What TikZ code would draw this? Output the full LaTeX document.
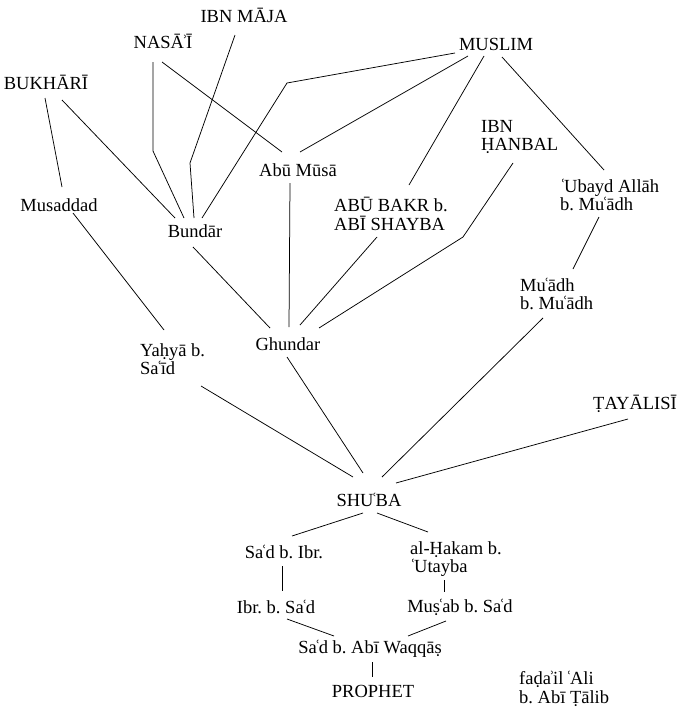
\documentclass[tikz,border=0pt]{standalone}
\usepackage{fontspec}
\setmainfont{Liberation Serif}
\usetikzlibrary{calc}
% ayn and hamza set tight against their neighbours
\newcommand\ay{\kern-0.12em ʿ\kern-0.1em}
\newcommand\hz{\kern-0.12em ʾ\kern-0.1em}
\begin{document}
\begin{tikzpicture}[x=1pt,y=-1pt,
  person/.style={inner sep=0pt,font=\fontsize{18.5}{18.5}\selectfont\frenchspacing},
  lperson/.style={person,anchor=west,align=left},
  link/.style={line width=0.75pt}]
\useasboundingbox (0,0) rectangle (678,707);
% transmitters
\node[person] (ibnmaja) at (244,15) {IBN MĀJA};
\node[person] (nasai) at (163,41) {NASĀ\hz Ī};
\node[person] (bukhari) at (46,82) {BUKHĀRĪ};
\node[person] (muslim) at (496,44) {MUSLIM};
\node[person] (abumusa) at (298,170) {Abū Mūsā};
\node[person] (musaddad) at (59,205) {Musaddad};
\node[person] (bundar) at (195,231) {Bundār};
\node[lperson] (ibnhanbal) at (481,137) {IBN\\ḤANBAL};
\node[lperson] (abubakr) at (334,214) {ABŪ BAKR b.\\ABĪ SHAYBA};
\node[lperson] (ubayd) at (560,195) {\kern0.1em\ay Ubayd Allāh\\b. Mu\ay ādh};
\node[lperson] (muadh) at (520,294) {Mu\ay ādh\\b. Mu\ay ādh};
\node[lperson] (yahya) at (140,359) {Yaḥyā b.\\Sa\ay īd};
\node[person] (ghundar) at (288,344) {Ghundar};
\node[person] (tayalisi) at (635,404) {ṬAYĀLISĪ};
\node[person] (shuba) at (369,500) {SHU\ay BA};
\node[person] (sadibr) at (284,552) {Sa\ay d b. Ibr.};
\node[lperson] (hakam) at (410,559) {al-Ḥakam b.\\\kern0.1em\ay Utayba};
\node[person] (ibrsad) at (276,607) {Ibr. b. Sa\ay d};
\node[person] (musab) at (460,607) {Muṣ\ay ab b. Sa\ay d};
\node[person] (waqqas) at (370,649) {Sa\ay d b. Abī Waqqāṣ};
\node[person] (prophet) at (373,691) {PROPHET};
\node[lperson] (fadail) at (519,689) {faḍa\hz il \ay Ali\\b. Abī Ṭālib};
% chains of transmission
\draw[link] ($(bukhari)+(-1,16)$) -- ($(musaddad)+(3,-18)$);
\draw[link] ($(bukhari)+(16,18)$) -- ($(bundar)+(-20,-13)$);
\draw[link] ($(nasai)+(-10,21)$) -- ($(nasai)+(-10,110)$) -- ($(bundar)+(-11,-13)$);
\draw[link] ($(nasai)+(-1,21)$) -- ($(abumusa)+(-16,-18)$);
\draw[link] ($(ibnmaja)+(-9,20)$) -- ($(bundar)+(-5,-68)$) -- ($(bundar)+(-1,-13)$);
\draw[link] ($(muslim)+(-41,9)$) -- ($(abumusa)+(-11,-87)$) -- ($(bundar)+(7,-13)$);
\draw[link] ($(muslim)+(-28,12)$) -- ($(abumusa)+(2,-18)$);
\draw[link] ($(muslim)+(-12,12)$) -- ($(abubakr.west)+(75,-29)$);
\draw[link] ($(muslim)+(6,13)$) -- ($(ubayd.west)+(44,-25)$);
\draw[link] ($(abumusa)+(-8,13)$) -- ($(ghundar)+(1,-17)$);
\draw[link] ($(musaddad)+(14,8)$) -- ($(yahya.west)+(24,-29)$);
\draw[link] ($(bundar)+(-2,16)$) -- ($(ghundar)+(-18,-16)$);
\draw[link] ($(abubakr.west)+(43,23)$) -- ($(ghundar)+(12,-19)$);
\draw[link] ($(ibnhanbal.west)+(32,26)$) -- ($(ibnhanbal.west)+(-18,100)$) -- ($(ghundar)+(31,-16)$);
\draw[link] ($(ubayd.west)+(39,22)$) -- ($(muadh.west)+(53,-25)$);
\draw[link] ($(muadh.west)+(23,24)$) -- ($(shuba)+(13,-23)$);
\draw[link] ($(yahya.west)+(61,27)$) -- ($(shuba)+(-16,-23)$);
\draw[link] ($(ghundar)+(-1,13)$) -- ($(shuba)+(-6,-27)$);
\draw[link] ($(tayalisi)+(-7,15)$) -- ($(shuba)+(27,-17)$);
\draw[link] ($(shuba)+(-6,13)$) -- ($(sadibr)+(8,-16)$);
\draw[link] ($(shuba)+(8,13)$) -- ($(hakam.west)+(18,-27)$);
\draw[link] ($(sadibr)+(-2,14)$) -- ($(ibrsad)+(6,-16)$);
\draw[link] ($(hakam.west)+(34,21)$) -- ($(musab)+(-16,-15)$);
\draw[link] ($(ibrsad)+(11,12)$) -- ($(waqqas)+(-36,-13)$);
\draw[link] ($(musab)+(-14,14)$) -- ($(waqqas)+(38,-13)$);
\draw[link] ($(waqqas)+(2,13)$) -- ($(prophet)+(-1,-14)$);
\end{tikzpicture}
\end{document}
